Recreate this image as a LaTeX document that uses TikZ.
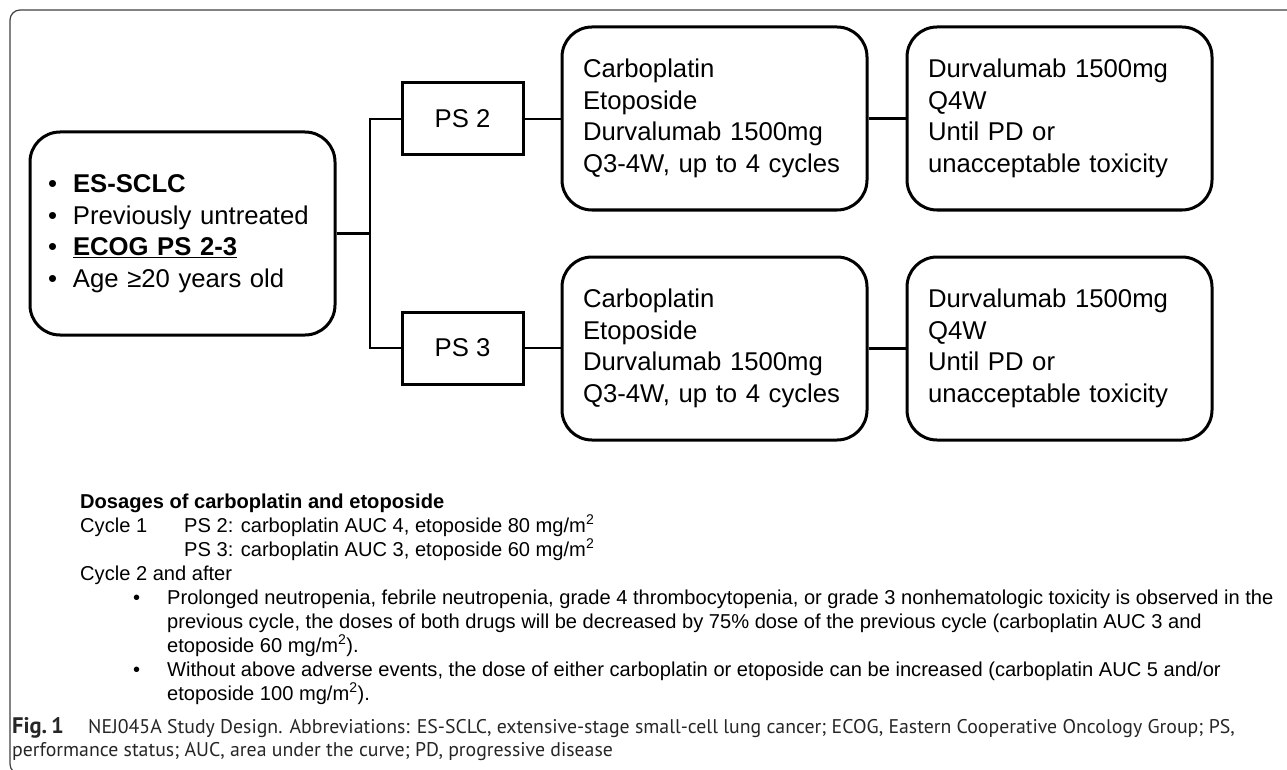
\documentclass[tikz,border=0pt]{standalone}
\usepackage{fontspec}
\setmainfont{Liberation Sans}
\newfontfamily\capfont{PT Sans}
\begin{document}
\begin{tikzpicture}[x=1pt,y=-1pt,
  bigfont/.style={font=\fontsize{25.7}{31.5}\selectfont},
  box/.style={draw, line width=3pt, rounded corners=30pt, align=left, inner xsep=21pt, inner ysep=0pt, bigfont,
    text width=263pt, minimum height=183pt},
  psbox/.style={draw, line width=3pt, bigfont, minimum width=121pt, minimum height=72pt, inner sep=0pt},
  conn/.style={line width=2.6pt},
  small/.style={anchor=base west, inner sep=0pt, font=\fontsize{20.1}{24}\selectfont},
  captxt/.style={anchor=base west, inner sep=0pt, font=\capfont\fontsize{19.8}{23}\selectfont, text=black!85}]
\useasboundingbox (0,0) rectangle (1287,770);
\draw[black!75, line width=1.2pt, rounded corners=10pt] (1300,774) -- (10,774) -- (10,10) -- (1300,10);

% left box
\node[box, inner xsep=18pt, text width=269pt, minimum height=203pt] (left) at (182.5,233.5)
 {\makebox[25pt][l]{•}\textbf{ES-SCLC}\\
  \makebox[25pt][l]{•}Previously untreated\\
  \makebox[25pt][l]{•}\underline{\textbf{ECOG PS 2-3}}\\
  \makebox[25pt][l]{•}Age ≥20 years old};

\node[psbox] (ps2) at (462.5,119) {PS 2};
\node[psbox] (ps3) at (462.5,348) {PS 3};

\node[box] (mid1) at (714.5,118.5) {Carboplatin\\Etoposide\\Durvalumab 1500mg\\Q3-4W, up to 4 cycles};
\node[box] (right1) at (1059.5,118.5) {Durvalumab 1500mg\\Q4W\\Until PD or\\unacceptable toxicity};
\node[box] (mid2) at (714.5,348.5) {Carboplatin\\Etoposide\\Durvalumab 1500mg\\Q3-4W, up to 4 cycles};
\node[box] (right2) at (1059.5,348.5) {Durvalumab 1500mg\\Q4W\\Until PD or\\unacceptable toxicity};

\coordinate (J) at (370,233.5);
\draw[conn] (left.east) -- (J);
\draw[conn] (ps2.west) -| (J) |- (ps3.west);
\draw[conn] (ps2.east) -- (ps2.east -| mid1.west);
\draw[conn] (ps3.east) -- (ps3.east -| mid2.west);
\draw[conn] (mid1.east) -- (right1.west);
\draw[conn] (mid2.east) -- (right2.west);

% dosage text
\node[small] (d0) at (80,508) {\textbf{Dosages of carboplatin and etoposide}};
\node[small] (d1) at (80,532) {Cycle 1};
\node[small] (d1a) at (184,532) {PS 2: carboplatin AUC 4, etoposide 80 mg/m\textsuperscript{2}};
\node[small] (d1b) at (184,556) {PS 3: carboplatin AUC 3, etoposide 60 mg/m\textsuperscript{2}};
\node[small] (d2) at (80,580) {Cycle 2 and after};
\node[small] (b1) at (133,604) {•};
\node[small] (t1a) at (167,604) {Prolonged neutropenia, febrile neutropenia, grade 4 thrombocytopenia, or grade 3 nonhematologic toxicity is observed in the};
\node[small] (t1b) at (167,628) {previous cycle, the doses of both drugs will be decreased by 75\% dose of the previous cycle (carboplatin AUC 3 and};
\node[small] (t1c) at (167,652) {etoposide 60 mg/m\textsuperscript{2}).};
\node[small] (b2) at (133,676) {•};
\node[small] (t2a) at (167,676) {Without above adverse events, the dose of either carboplatin or etoposide can be increased (carboplatin AUC 5 and/or};
\node[small] (t2b) at (167,700) {etoposide 100 mg/m\textsuperscript{2}).};

% caption
\node[captxt] (c1) at (12,733) {\makebox[76pt][l]{\fontsize{22.5}{23}\selectfont\textbf{Fig.\,1}}NEJ045A Study Design. Abbreviations: ES-SCLC, extensive-stage small-cell lung cancer; ECOG, Eastern Cooperative Oncology Group; PS,};
\node[captxt] (c2) at (12,756) {performance status; AUC, area under the curve; PD, progressive disease};
\end{tikzpicture}
\end{document}
